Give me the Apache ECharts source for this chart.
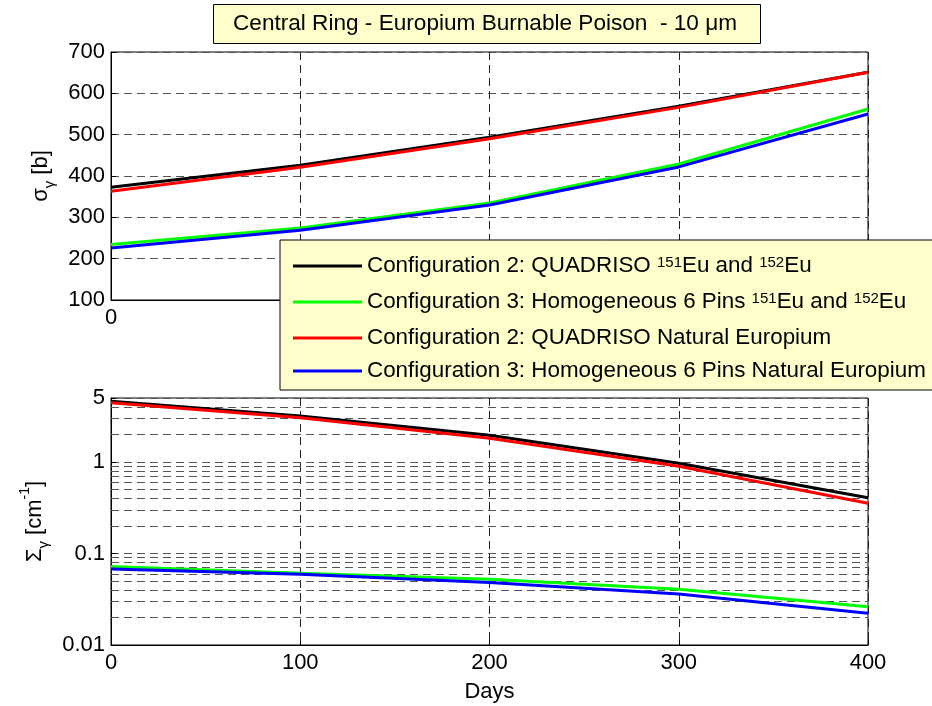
<!DOCTYPE html>
<html><head><meta charset="utf-8">
<script src="https://cdn.jsdelivr.net/npm/echarts@6/dist/echarts.min.js"></script>
<style>html,body{margin:0;padding:0;background:#fff}#c{width:932px;height:706px}</style>
</head><body><div id="c"></div>
<script>
// ---- data ----
const days = [0, 100, 200, 300, 400];
const seriesNames = [
  'Configuration 2: QUADRISO 151Eu and 152Eu',
  'Configuration 3: Homogeneous 6 Pins 151Eu and 152Eu',
  'Configuration 2: QUADRISO Natural Europium',
  'Configuration 3: Homogeneous 6 Pins Natural Europium'
];
const legendRich = [
  '{n|Configuration 2: QUADRISO }{sup|151}{n|Eu and }{sup|152}{n|Eu}',
  '{n|Configuration 3: Homogeneous 6 Pins }{sup|151}{n|Eu and }{sup|152}{n|Eu}',
  '{n|Configuration 2: QUADRISO Natural Europium}',
  '{n|Configuration 3: Homogeneous 6 Pins Natural Europium}'
];
// microscopic capture cross-section sigma_gamma [b]
const sigmaQuadEu  = [373, 426, 494, 569, 651];
const sigmaHomEu   = [234, 274, 335, 429, 562];
const sigmaQuadNat = [363, 421, 490, 566, 651];
const sigmaHomNat  = [226, 269, 330, 422, 550];
// macroscopic capture cross-section Sigma_gamma [cm-1]
const macroQuadEu  = [4.62, 3.18, 1.96, 0.967, 0.407];
const macroHomEu   = [0.0723, 0.0607, 0.0523, 0.0407, 0.0262];
const macroQuadNat = [4.43, 3.05, 1.82, 0.90, 0.354];
const macroHomNat  = [0.0676, 0.0593, 0.0481, 0.036, 0.0222];
// minor log grid lines
const minorGrid = [0.02,0.03,0.04,0.05,0.06,0.07,0.08,0.09,0.2,0.3,0.4,0.5,0.6,0.7,0.8,0.9,2,3,4];
const titleText = 'Central Ring - Europium Burnable Poison  - 10 μm';

// ---- chart ----
const colors = ['#000000', '#00ff00', '#ff0000', '#0000ff'];
const FONT = 'Liberation Sans, Arial, sans-serif';
const FS = 22;
const pairs = arr => days.map((d, i) => [d, arr[i]]);
const topData = [sigmaQuadEu, sigmaHomEu, sigmaQuadNat, sigmaHomNat];
const botData = [macroQuadEu, macroHomEu, macroQuadNat, macroHomNat];

const dashH = {type: [8, 5], color: '#555', width: 1};
const dashV = {type: [8, 5], color: '#222', width: 1};

const series = [];
topData.forEach((arr, i) => series.push({
  name: seriesNames[i], type: 'line', xAxisIndex: 0, yAxisIndex: 0,
  data: pairs(arr), symbol: 'none', smooth: false,
  lineStyle: {color: colors[i], width: 3}, itemStyle: {color: colors[i]},
  emphasis: {disabled: true}
}));
botData.forEach((arr, i) => {
  const s = {
    name: seriesNames[i], type: 'line', xAxisIndex: 1, yAxisIndex: 1,
    data: pairs(arr), symbol: 'none',
    lineStyle: {color: colors[i], width: 3}, itemStyle: {color: colors[i]},
    emphasis: {disabled: true}
  };
  if (i === 0) {
    s.markLine = {
      silent: true, symbol: 'none', z: 1, animation: false,
      label: {show: false}, lineStyle: dashH,
      data: minorGrid.map(v => ({yAxis: v}))
    };
  }
  series.push(s);
});

const axisLbl = {fontSize: FS, color: '#000', fontFamily: FONT};

const option = {
  animation: false,
  textStyle: {fontFamily: FONT, color: '#000'},
  title: {
    text: titleText, left: 213, top: 4,
    padding: [8, 24, 9, 20],
    backgroundColor: '#ffffcc', borderColor: '#000', borderWidth: 1,
    textStyle: {fontSize: 22.6, fontWeight: 'normal', color: '#000', fontFamily: FONT}
  },
  legend: {
    data: seriesNames, orient: 'vertical', left: 280, top: 240,
    padding: [15, 20, 8, 13], itemGap: 11,
    itemWidth: 69, itemHeight: 3, icon: 'rect',
    backgroundColor: '#ffffcc', borderColor: '#000', borderWidth: 1,
    selectedMode: false,
    formatter: name => legendRich[seriesNames.indexOf(name)],
    textStyle: {
      fontSize: 22.4, color: '#000', fontFamily: FONT,
      rich: {
        n: {fontSize: 22.4, color: '#000', fontFamily: FONT, verticalAlign: 'bottom', padding: [0, 0, 0, 0]},
        sup: {fontSize: 15, color: '#000', fontFamily: FONT, verticalAlign: 'top', lineHeight: 15, padding: [0, 0, 10, 0]}
      }
    }
  },
  grid: [
    {left: 111, top: 52, width: 757, height: 248, show: true, borderColor: '#000', borderWidth: 1, backgroundColor: '#fff'},
    {left: 111, top: 398, width: 757, height: 247, show: true, borderColor: '#000', borderWidth: 1, backgroundColor: '#fff'}
  ],
  xAxis: [
    {type: 'value', gridIndex: 0, min: 0, max: 400, interval: 100,
     axisLine: {show: true, lineStyle: {color: '#000'}},
     axisTick: {show: true, inside: true, length: 5, lineStyle: {color: '#000'}},
     axisLabel: Object.assign({margin: 7}, axisLbl),
     splitLine: {show: true, lineStyle: dashV}},
    {type: 'value', gridIndex: 1, min: 0, max: 400, interval: 100,
     name: 'Days', nameLocation: 'middle', nameGap: 36,
     nameTextStyle: {fontSize: FS, color: '#000', fontFamily: FONT},
     axisLine: {show: true, lineStyle: {color: '#000'}},
     axisTick: {show: true, inside: true, length: 5, lineStyle: {color: '#000'}},
     axisLabel: Object.assign({margin: 7}, axisLbl),
     splitLine: {show: true, lineStyle: dashV}}
  ],
  yAxis: [
    {type: 'value', gridIndex: 0, min: 100, max: 700, interval: 100,
     name: '{a|σ}{sub|γ}{a| [b]}', nameLocation: 'middle', nameGap: 54, nameRotate: 90,
     nameTextStyle: {rich: {
       a: {fontSize: FS, lineHeight: 22, verticalAlign: 'top', color: '#000', fontFamily: FONT},
       sub: {fontSize: 15, lineHeight: 15, padding: [12, 0, 0, 0], verticalAlign: 'top', color: '#000', fontFamily: FONT}
     }},
     axisLine: {show: true, lineStyle: {color: '#000'}},
     axisTick: {show: true, inside: true, length: 5, lineStyle: {color: '#000'}},
     axisLabel: Object.assign({margin: 6}, axisLbl),
     splitLine: {show: true, lineStyle: dashH}},
    {type: 'log', logBase: 10, gridIndex: 1, min: 0.01, max: 5,
     name: '{a|Σ}{sub|γ}{a| [cm}{sup|-1}{a|]}', nameLocation: 'middle', nameGap: 54, nameRotate: 90,
     nameTextStyle: {rich: {
       a: {fontSize: FS, lineHeight: 22, padding: [6, 0, 0, 0], verticalAlign: 'top', color: '#000', fontFamily: FONT},
       sup: {fontSize: 14, lineHeight: 14, verticalAlign: 'top', color: '#000', fontFamily: FONT},
       sub: {fontSize: 15, lineHeight: 15, padding: [18, 0, 0, 0], verticalAlign: 'top', color: '#000', fontFamily: FONT}
     }},
     axisLine: {show: true, lineStyle: {color: '#000'}},
     axisTick: {show: true, inside: true, length: 5, lineStyle: {color: '#000'}},
     axisLabel: Object.assign({margin: 6, formatter: v => String(+v.toPrecision(3))}, axisLbl),
     splitLine: {show: true, lineStyle: dashH}}
  ],
  series: series
};
const chart = echarts.init(document.getElementById('c'), null, {renderer: 'canvas'});
chart.setOption(option);
</script>
</body></html>
